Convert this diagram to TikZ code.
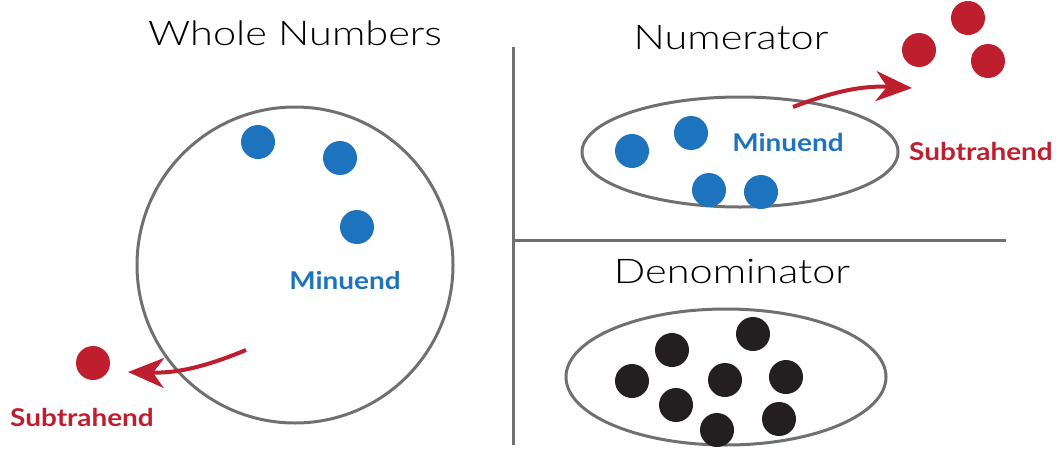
\documentclass[tikz,border=0pt]{standalone}
\usepackage{fontspec}
\setmainfont{Lato}
\newfontfamily\headfont{Lato Light}[FakeStretch=1.22]
\newfontfamily\tagfont{Lato}[FakeStretch=1.14]
\usetikzlibrary{arrows.meta,positioning}

\definecolor{dotblue}{RGB}{30,115,190}
\definecolor{dotred}{RGB}{190,30,46}
\definecolor{dotblack}{RGB}{35,31,32}
\definecolor{setgray}{RGB}{112,112,112}

\begin{document}
\begin{tikzpicture}[x=1pt, y=-1pt,
    every node/.style={inner sep=0pt},
    dot/.style={circle, minimum size=34pt},
    title/.style={font=\headfont\fontsize{34}{38}\selectfont},
    tag/.style={font=\tagfont\fontsize{24.5}{28}\selectfont\bfseries},
    border/.style={setgray, line width=3pt},
    move/.style={dotred, line width=4pt, -{Stealth[length=36pt,width=30pt,inset=11pt]}}]
  \useasboundingbox (0,0) rectangle (1059,453);
  % Dividers
  \draw[border] (513,47) -- (513,445);
  \draw[border] (513,240) -- (1006,240);

  % Whole numbers
  \node[title] (whole) at (295,33) {Whole Numbers};
  \draw[border] (295,265) circle (158);
  \foreach \name/\pos in {wa/{(258,142)}, wb/{(340,158)}, wc/{(357,227)}}
      \node[dot, fill=dotblue] (\name) at \pos {};
  \node[tag, dotblue] (wmin) at (345,280) {Minuend};
  \node[dot, fill=dotred] (wsub) at (93,363) {};
  \node[tag, dotred] (wsubtag) at (82,417) {Subtrahend};
  \coordinate (wfrom) at (246,350);
  \coordinate (wto) at (128,372);
  \draw[move] (wfrom) to[bend left=12] (wto);

  % Numerator
  \node[title] (num) at (731,38) {Numerator};
  \draw[border] (740,152) ellipse (158 and 55);
  \foreach \name/\pos in {na/{(632,151)}, nb/{(691,133)}, nc/{(709,190)}, nd/{(761,192)}}
      \node[dot, fill=dotblue] (\name) at \pos {};
  \node[tag, dotblue] (nmin) at (788,142) {Minuend};
  \foreach \name/\pos in {ra/{(968,18)}, rb/{(919,50)}, rc/{(988,61)}}
      \node[dot, fill=dotred] (\name) at \pos {};
  \node[tag, dotred] (nsubtag) at (981,151) {Subtrahend};
  \coordinate (nfrom) at (793,107);
  \coordinate (nto) at (912,88);
  \draw[move] (nfrom) to[bend left=12] (nto);

  % Denominator
  \node[title] (den) at (732,272) {Denominator};
  \draw[border] (726,377) ellipse (160 and 68);
  \foreach \name/\pos in {da/{(753,334)}, db/{(672,350)}, dc/{(632,381)}, dd/{(725,380)},
                          de/{(786,377)}, df/{(676,405)}, dg/{(779,419)}, dh/{(717,430)}}
      \node[dot, fill=dotblack] (\name) at \pos {};
\end{tikzpicture}
\end{document}
